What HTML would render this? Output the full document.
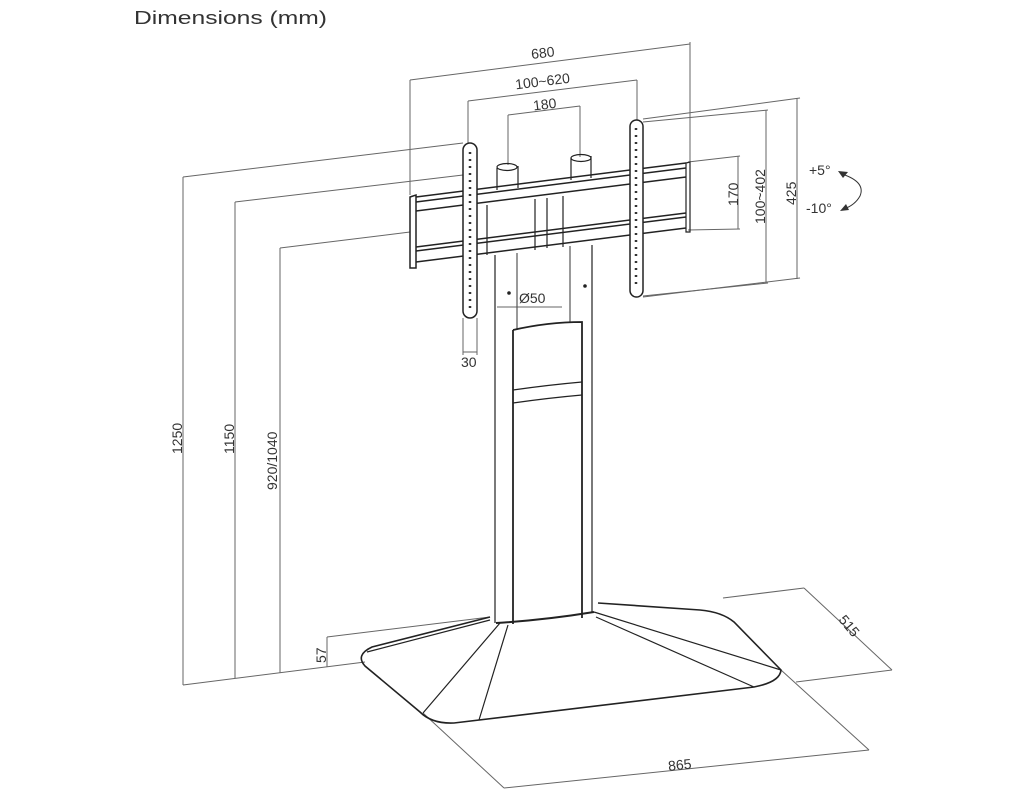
<!DOCTYPE html>
<html><head><meta charset="utf-8"><style>
html,body{margin:0;padding:0;background:#fff;}
svg{display:block;}
text{font-family:"Liberation Sans",sans-serif;fill:#333;}
</style></head><body>
<svg width="1024" height="800" viewBox="0 0 1024 800" xmlns="http://www.w3.org/2000/svg">
<text x="134" y="24" font-size="18" textLength="193" lengthAdjust="spacingAndGlyphs">Dimensions (mm)</text>

<g stroke="#666" stroke-width="1" fill="none">
<line x1="410" y1="80" x2="690" y2="44"/>
<line x1="410" y1="80" x2="410" y2="195"/>
<line x1="690" y1="42" x2="690" y2="165"/>
<line x1="468" y1="101" x2="637" y2="80"/>
<line x1="468" y1="101" x2="468" y2="143"/>
<line x1="637" y1="80" x2="637" y2="120"/>
<line x1="508" y1="115" x2="580" y2="106"/>
<line x1="508" y1="115" x2="508" y2="165"/>
<line x1="580" y1="106" x2="580" y2="157"/>
<line x1="183" y1="177" x2="183" y2="685"/>
<line x1="183" y1="177" x2="463" y2="143"/>
<line x1="235" y1="202" x2="235" y2="678"/>
<line x1="235" y1="202" x2="463" y2="175"/>
<line x1="280" y1="248" x2="280" y2="673"/>
<line x1="280" y1="248" x2="410" y2="232"/>
<line x1="183" y1="685" x2="365" y2="662"/>
<line x1="327" y1="637" x2="327" y2="667"/>
<line x1="327" y1="637" x2="490" y2="617"/>
<line x1="688" y1="162" x2="740" y2="156"/>
<line x1="688" y1="230" x2="740" y2="229"/>
<line x1="738" y1="156" x2="738" y2="229"/>
<line x1="643" y1="122" x2="768" y2="110"/>
<line x1="643" y1="296" x2="768" y2="283"/>
<line x1="766" y1="110" x2="766" y2="283"/>
<line x1="643" y1="119" x2="800" y2="98"/>
<line x1="643" y1="297" x2="800" y2="278"/>
<line x1="797" y1="98" x2="797" y2="279"/>
<line x1="497" y1="307" x2="562" y2="307"/>
<line x1="463" y1="318" x2="463" y2="355"/>
<line x1="477" y1="318" x2="477" y2="355"/>
<line x1="463" y1="352" x2="477" y2="352"/>
<line x1="796" y1="682" x2="892" y2="670"/>
<line x1="804" y1="588" x2="892" y2="670"/>
<line x1="723" y1="598" x2="804" y2="588"/>
<line x1="781" y1="670" x2="869" y2="750"/>
<line x1="423" y1="713" x2="504" y2="788"/>
<line x1="504" y1="788" x2="869" y2="750"/>
</g>

<g stroke="#222" stroke-width="1.2" fill="none">
<line x1="495" y1="255" x2="495" y2="623"/>
<line x1="592" y1="245" x2="592" y2="612"/>
<line x1="517" y1="253" x2="517" y2="330" stroke="#555"/>
<line x1="570" y1="246" x2="570" y2="322" stroke="#555"/>
<path d="M513 330 Q548 322 582 322 L582 618 M513 330 L513 624" stroke-width="1.8"/>
<path d="M513 390 Q548 385 582 382 M513 403 Q548 398 582 395"/>
<circle cx="509" cy="293" r="1.2" fill="#222"/><circle cx="585" cy="286" r="1.2" fill="#222"/>
<path d="M497 168 L497 190 M518 166 L518 188 M571 158 L571 180 M591 156 L591 178"/>
<ellipse cx="507" cy="167" rx="10" ry="3.5"/>
<ellipse cx="581" cy="158" rx="10" ry="3.5"/>
<path d="M410 197 L416 195 L416 268 L410 268 Z" stroke-width="1.5"/>
<path d="M416 197 L686 163 M416 202 L686 168 M416 211 L686 177 M416 247 L686 213 M416 251 L686 217 M416 262 L686 228" stroke-width="1.5"/>
<path d="M686 163 L690 162 L690 232 L686 232 Z"/>
<path d="M487 205 L487 255 M535 199 L535 250 M563 196 L563 247 M547 198 L547 248"/>
<rect x="463" y="143" width="14" height="175" rx="7" stroke-width="1.5" fill="#fff"/>
<rect x="630" y="120" width="13" height="177" rx="6.5" stroke-width="1.5" fill="#fff"/>
<path d="M496 623 Q545 620 594 612" stroke-width="2"/>
<path d="M490 617 L372 647 Q355 655 365 666 L420 712 Q432 724 454 723 L754 687 Q780 682 781 670 L734 622 Q722 612 700 610 L598 603" stroke-width="1.6"/>
<path d="M500 623 L423 713 M508 625 L479 720 M594 612 L781 670 M596 617 L754 687 M490 620 L367 652"/>
</g>
<g fill="none" stroke="#333" stroke-width="1">
<path d="M470 152 v160 M636 128 v160" stroke-dasharray="2 5" stroke-width="2.5"/>
<path d="M842 174 Q866 182 860 196 Q855 205 844 209"/>
</g>
<path d="M838 171 L848 172 L843 178 Z M840 211 L846 204 L849 210 Z" fill="#333"/>
<g font-size="14">
<text x="531" y="57" transform="rotate(-7 548 52)">680</text>
<text x="515" y="85" transform="rotate(-7 551 80)">100~620</text>
<text x="533" y="109" transform="rotate(-7 546 104)">180</text>
<text x="519" y="303">Ø50</text>
<text x="461" y="367">30</text>
<text x="809" y="175">+5°</text>
<text x="806" y="213">-10°</text>
<text x="0" y="0" transform="translate(738 206) rotate(-90)">170</text>
<text x="0" y="0" transform="translate(765 224) rotate(-90)">100~402</text>
<text x="0" y="0" transform="translate(796 205) rotate(-90)">425</text>
<text x="0" y="0" transform="translate(182 454) rotate(-90)">1250</text>
<text x="0" y="0" transform="translate(234 454) rotate(-90)">1150</text>
<text x="0" y="0" transform="translate(277 490) rotate(-90)">920/1040</text>
<text x="0" y="0" transform="translate(326 663) rotate(-90)">57</text>
<text x="0" y="0" transform="translate(838 620) rotate(50)">515</text>
<text x="668" y="769" transform="rotate(-6 686 764)">865</text>
</g>
</svg>
</body></html>
